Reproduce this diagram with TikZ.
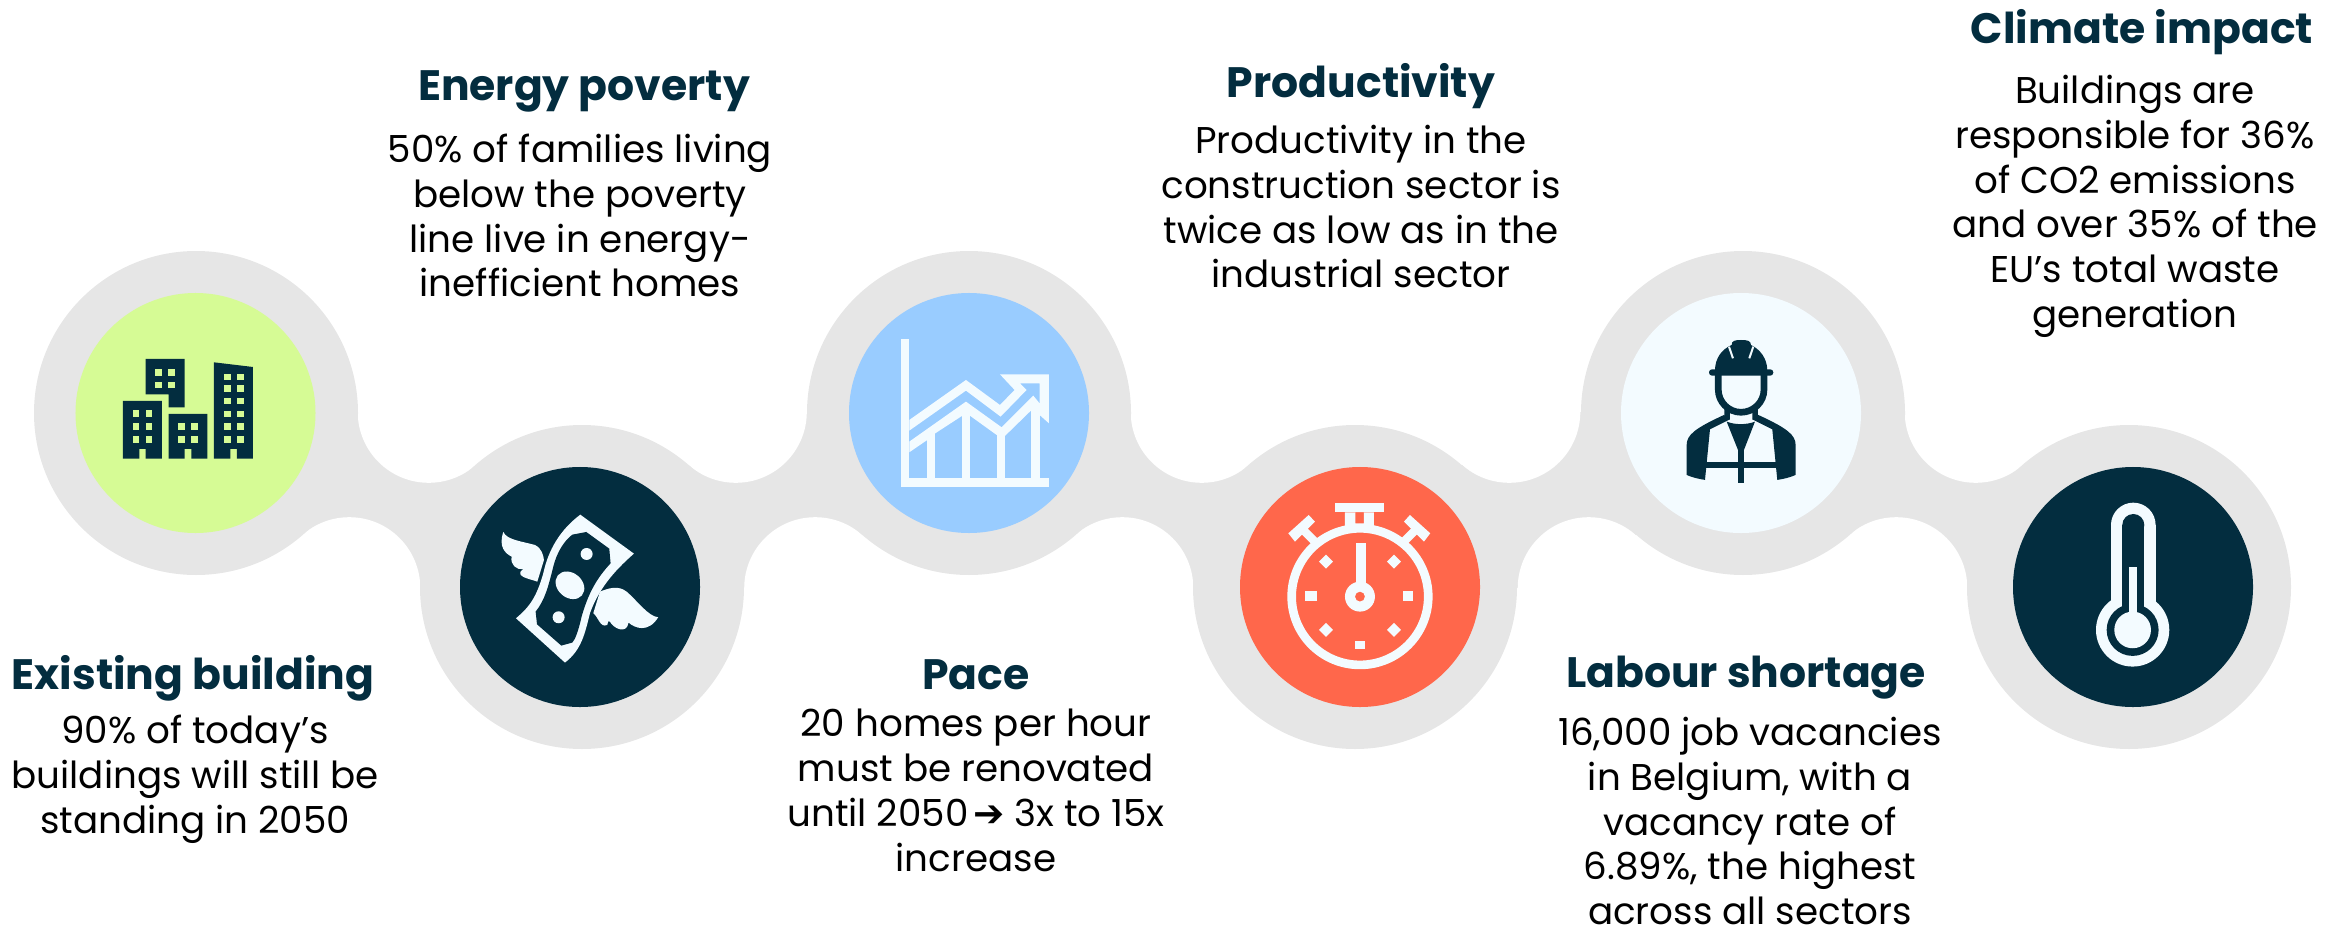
\documentclass[tikz,border=0pt]{standalone}
\usepackage{fontspec}
\setmainfont{Poppins}
\newfontfamily\symfont{DejaVu Sans}
\definecolor{ink}{HTML}{032D3F}
\definecolor{rim}{HTML}{E6E6E6}
\definecolor{lime}{HTML}{D6FB95}
\definecolor{sky}{HTML}{99CCFF}
\definecolor{coral}{HTML}{FF674B}
\definecolor{pale}{HTML}{F3FBFF}
\tikzset{
  disc/.style={circle,minimum size=7.2cm,inner sep=0pt,fill=#1},
  headtxt/.style={anchor=center,inner sep=0pt,text=ink,font=\fontsize{36.3}{42}\selectfont\bfseries},
  bodytxt/.style={anchor=north,inner sep=0pt,align=center,text=black,font=\fontsize{31.8}{38.2}\selectfont},
}
\begin{document}
\begin{tikzpicture}[x=0.03cm,y=-0.03cm]
\useasboundingbox (0,0) rectangle (2348,930);
% ribbon
\foreach \nm/\ox/\oy in {o1/196/413,o2/582/587,o3/969/413,o4/1355/587,o5/1743/413,o6/2129/587}
  \coordinate (\nm) at (\ox,\oy);
\foreach \a/\b/\tx/\bx in {o1/o2/428.7/349.3,o2/o3/735.8/815.2,o3/o4/1201.7/1122.3,o4/o5/1509.3/1588.7,o5/o6/1975.7/1896.3}{
  \coordinate (ft) at (\tx,411.8);
  \coordinate (fb) at (\bx,588.2);
  \fill[rim] (\a) -- (ft) -- (\b) -- (fb) -- cycle;
  \fill[white] (ft) circle[radius=71];
  \fill[white] (fb) circle[radius=71];
}
\foreach \nm in {o1,o2,o3,o4,o5,o6}
  \fill[rim] (\nm) circle[radius=162];
% discs
\node[disc=lime]  (n1) at (195.5,413) {};
\node[disc=ink]   (n2) at (580,587) {};
\node[disc=sky]   (n3) at (969,413) {};
\node[disc=coral] (n4) at (1360,587) {};
\node[disc=pale]  (n5) at (1741,413) {};
\node[disc=ink]   (n6) at (2133,587) {};
% buildings
\begin{scope}[shift={(100,330)},x=0.01cm,y=-0.01cm]
\fill[ink] (137,87) -- (254,87) -- (254,232) -- (206,232) -- (206,193) -- (137,193) -- cycle;
\fill[ink] (69,213) -- (186,213) -- (186,386) -- (137,386) -- (137,357) -- (118,357) -- (118,386) -- (69,386) -- cycle;
\fill[ink] (206,252) -- (322,252) -- (322,386) -- (274,386) -- (274,357) -- (254,357) -- (254,386) -- (206,386) -- cycle;
\fill[ink] (342,97) -- (459,111) -- (459,386) -- (411,386) -- (411,357) -- (391,357) -- (391,386) -- (342,386) -- cycle;
\foreach \wx/\wy in {166/117,205/117,166/155,205/155,
  98/241,137/241,98/280,137/280,98/319,137/319,
  235/280,274/280,235/319,274/319,
  372/131,411/131,372/165,411/165,372/203,411/203,372/242,411/242,372/280,411/280,372/319,411/319}
  \fill[lime] (\wx,\wy) rectangle ++(20,20);
\end{scope}
% flying banknote
\begin{scope}[shift={(480,500)},x=0.01cm,y=-0.01cm]
\fill[pale] (70,96) .. controls (80,120) and (130,125) .. (165,135) .. controls (185,145) and (190,165) .. (192,180) -- (172,245) .. controls (160,240) and (130,235) .. (122,225) .. controls (118,215) and (125,210) .. (130,208) .. controls (110,210) and (90,195) .. (95,170) .. controls (75,160) and (55,140) .. (70,96) -- cycle;
\fill[pale] (535,352) .. controls (505,350) and (470,300) .. (440,275) .. controls (415,255) and (385,265) .. (360,275) -- (340,340) .. controls (355,350) and (360,385) .. (382,375) .. controls (385,365) and (385,360) .. (390,365) .. controls (400,385) and (440,405) .. (446,368) .. controls (465,385) and (505,400) .. (535,352) -- cycle;
\fill[pale] (301,44) -- (462,161) .. controls (400,215) and (355,270) .. (330,340) .. controls (315,400) and (305,450) .. (255,488) -- (108,355) .. controls (150,320) and (170,290) .. (190,220) .. controls (205,150) and (240,90) .. (301,44) -- cycle;
\fill[ink] (277,104) -- (319,96) -- (388,146) -- (392,190) .. controls (350,235) and (325,280) .. (305,350) .. controls (295,395) and (285,420) .. (277,428) -- (244,437) -- (171,373) -- (167,335) .. controls (195,300) and (205,260) .. (220,200) .. controls (230,160) and (250,125) .. (277,104) -- cycle;
\fill[pale] (320,162) circle[radius=18];
\fill[pale,rotate around={-40:(270,256)}] (270,256) ellipse[x radius=47,y radius=37];
\fill[pale] (236,352) circle[radius=18];
\end{scope}
% chart
\begin{scope}[shift={(880,320)},x=0.01cm,y=-0.01cm]
\fill[pale] (63,57) rectangle (88,500);
\fill[pale] (63,475) rectangle (507,500);
\fill[pale] (88,300) -- (258,180) -- (360,255) -- (404,210) -- (360,163) -- (507,163) -- (507,310) -- (479,285) -- (479,190) -- (420,190) -- (440,210) -- (362,290) -- (258,212) -- (88,332) -- cycle;
\fill[pale] (88,365) -- (258,245) -- (365,322) -- (460,227) -- (479,250) -- (453,272) -- (375,348) -- (350,345) -- (271,288) -- (246,288) -- (166,340) -- (142,360) -- (88,397) -- cycle;
\fill[pale] (142,340) rectangle (166,480);
\fill[pale] (246,260) rectangle (271,480);
\fill[pale] (350,330) rectangle (375,480);
\fill[pale] (453,250) rectangle (479,480);
\end{scope}
% stopwatch
\begin{scope}[shift={(1270,490)},x=0.01cm,y=-0.01cm]
\fill[pale] (196,40) rectangle (341,67);
\fill[pale,even odd rule] (225,67) rectangle (312,112) (256,67) rectangle (282,100);
\fill[pale] (55,130) -- (116,75) -- (135,95) -- (75,155) -- cycle;
\fill[pale] (481,130) -- (420,75) -- (402,95) -- (462,155) -- cycle;
\draw[pale,line width=0.25cm] (100,120) -- (135,155);
\draw[pale,line width=0.25cm] (437,120) -- (402,155);
\fill[pale,even odd rule] (270,320) circle[radius=218] (270,320) circle[radius=192];
\fill[pale] (258,159) rectangle (287,290);
\fill[pale,even odd rule] (270,320) circle[radius=45] (270,320) circle[radius=15];
\fill[pale] (105,303) rectangle (141,332);
\fill[pale] (399,303) rectangle (429,332);
\fill[pale] (255,453) rectangle (285,478);
\foreach \dx/\dy in {168/215,372/215,168/420,372/420}
  \fill[pale] (\dx-21,\dy) -- (\dx,\dy-21) -- (\dx+21,\dy) -- (\dx,\dy+21) -- cycle;
\end{scope}
% worker
\begin{scope}[shift={(1670,330)},x=0.01cm,y=-0.01cm]
\fill[ink] (135,122) .. controls (135,85) and (155,58) .. (185,45) .. controls (185,32) and (195,30) .. (213,30) .. controls (232,30) and (243,32) .. (243,45) .. controls (270,58) and (292,85) .. (292,122) -- cycle;
\fill[ink,rounded corners=0.09cm] (117,118) rectangle (310,137);
\draw[pale,line width=0.06cm] (177,50) -- (189,85);
\draw[pale,line width=0.06cm] (250,50) -- (238,85);
\draw[ink,line width=0.2cm] (145,130) -- (145,180) .. controls (145,215) and (175,247) .. (213,247) .. controls (252,247) and (282,215) .. (282,180) -- (282,130);
\fill[ink] (163,225) -- (180,240) -- (180,268) -- (163,268) -- cycle;
\fill[ink] (264,225) -- (247,240) -- (247,268) -- (264,268) -- cycle;
\fill[ink] (162,255) -- (180,268) -- (120,298) -- (105,450) .. controls (85,447) and (65,442) .. (50,435) -- (50,345) .. controls (50,315) and (75,295) .. (162,255) -- cycle;
\fill[ink] (265,255) -- (247,268) -- (307,298) -- (322,450) .. controls (342,447) and (362,442) .. (377,435) -- (377,345) .. controls (377,315) and (352,295) .. (265,255) -- cycle;
\fill[ink] (170,275) .. controls (195,285) and (230,285) .. (255,275) -- (222,360) -- (204,360) -- cycle;
\fill[ink] (203,345) rectangle (222,458);
\fill[ink] (107,397) rectangle (320,415);
\end{scope}
% thermometer
\begin{scope}[shift={(2060,490)},x=0.01cm,y=-0.01cm]
\fill[pale] (220,105) circle[radius=67];
\fill[pale] (153,105) rectangle (287,345);
\fill[pale] (218,420) circle[radius=110];
\fill[ink] (220,105) circle[radius=33];
\fill[ink] (187,105) rectangle (253,360);
\fill[ink] (218,420) circle[radius=78];
\fill[pale] (218,420) circle[radius=55];
\fill[pale] (208,231) rectangle (230,380);
\end{scope}
% texts
\node[headtxt] (h1) at (193,678) {Existing building};
\node[bodytxt] (b1) at (195,715) {90\% of today’s\\buildings will still be\\standing in 2050};
\node[headtxt] (h2) at (584,91) {Energy poverty};
\node[bodytxt] (b2) at (580,134) {50\% of families living\\below the poverty\\line live in energy-\\inefficient homes};
\node[headtxt] (h3) at (976,675) {Pace};
\node[bodytxt] (b3) at (976,709) {20 homes per hour\\must be renovated\\until 2050{\symfont\kern4pt ➔}\ 3x to 15x\\increase};
\node[headtxt] (h4) at (1361,86) {Productivity};
\node[bodytxt] (b4) at (1361,125) {Productivity in the\\construction sector is\\twice as low as in the\\industrial sector};
\node[headtxt] (h5) at (1746,678) {Labour shortage};
\node[bodytxt] (b5) at (1750,717) {16,000 job vacancies\\in Belgium, with a\\vacancy rate of\\6.89\%, the highest\\across all sectors};
\node[headtxt] (h6) at (2142,32) {Climate impact};
\node[bodytxt] (b6) at (2135,75) {Buildings are\\responsible for 36\%\\of CO2 emissions\\and over 35\% of the\\EU’s total waste\\generation};
\end{tikzpicture}
\end{document}
